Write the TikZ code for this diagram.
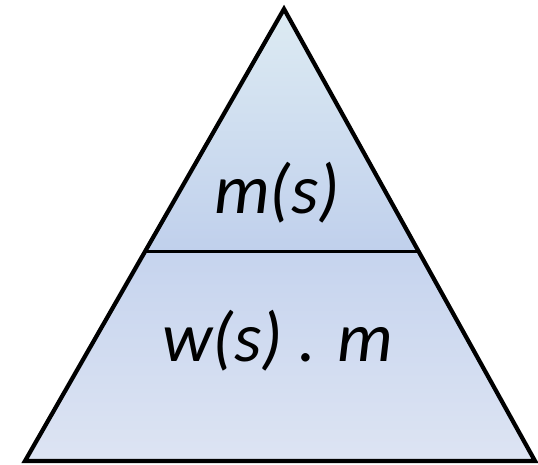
\documentclass[tikz,border=0pt]{standalone}
\usepackage{fontspec}
\setmainfont{Carlito}
\usepackage{xcolor}
\usetikzlibrary{calc}
\definecolor{toptint}{HTML}{DDEBF3}
\definecolor{midtint}{HTML}{C0D0EC}
\definecolor{lowtint}{HTML}{C6D4EE}
\definecolor{basetint}{HTML}{DDE4F3}

\begin{document}
\begin{tikzpicture}[
  x=0.02cm, y=-0.02cm,
  outline/.style={draw=black, line width=2.4pt, line join=miter},
  divider/.style={draw=black, line width=1.8pt},
  label/.style={font=\fontsize{40}{44}\selectfont\itshape, inner sep=0pt},
]
\useasboundingbox (0,0) rectangle (538,465);

%% corners
\coordinate (apex) at (284,9);
\coordinate (bl) at (25,461);
\coordinate (br) at (535,461);
\coordinate (dl) at ($(apex)!0.5364!(bl)$);
\coordinate (dr) at ($(apex)!0.5364!(br)$);

%% fills
\shade[top color=toptint, bottom color=midtint] (apex) -- (dr) -- (dl) -- cycle;
\shade[top color=lowtint, bottom color=basetint] (dl) -- (dr) -- (br) -- (bl) -- cycle;

%% lines
\draw[outline] (apex) -- (br) -- (bl) -- cycle;
\draw[divider] (dl) -- (dr);

%% texts
\node[label] (mass) at (277,193) {m(s)};
\node[label] (weight) at (278,341) {w(s) . m};

\end{tikzpicture}
\end{document}
